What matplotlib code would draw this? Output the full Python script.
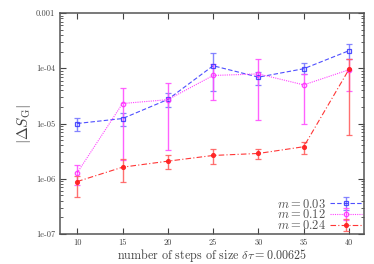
import matplotlib
matplotlib.use("Agg")
import matplotlib.pyplot as plt
import numpy as np
from matplotlib.ticker import FixedLocator, FixedFormatter, LogLocator, NullFormatter

plt.rcParams['font.family'] = ['cmr10', 'DejaVu Serif']
plt.rcParams['mathtext.fontset'] = 'cm'
plt.rcParams['axes.formatter.use_mathtext'] = True

steps = [10, 15, 20, 25, 30, 35, 40]

m003 = [1.00e-5, 1.23e-5, 2.72e-5, 1.11e-4, 6.9e-5, 9.8e-5, 2.08e-4]
m003_hi = [1.28e-5, 1.58e-5, 3.5e-5, 1.87e-4, 8.7e-5, 1.23e-4, 2.75e-4]
m003_lo = [7.3e-6, 9.0e-6, 1.95e-5, 3.9e-5, 4.9e-5, 7.9e-5, 1.46e-4]

m012 = [1.28e-6, 2.3e-5, 2.7e-5, 7.4e-5, 7.9e-5, 5.0e-5, 9.4e-5]
m012_hi = [1.76e-6, 4.4e-5, 5.3e-5, 1.2e-4, 1.46e-4, 7.9e-5, 1.47e-4]
m012_lo = [7.8e-7, 2.2e-6, 3.3e-6, 2.67e-5, 1.17e-5, 1.0e-5, 3.8e-5]

m024 = [8.9e-7, 1.62e-6, 2.08e-6, 2.64e-6, 2.87e-6, 3.8e-6, 9.6e-5]
m024_hi = [1.13e-6, 2.3e-6, 2.7e-6, 3.39e-6, 3.49e-6, 4.7e-6, 1.5e-4]
m024_lo = [4.7e-7, 8.9e-7, 1.49e-6, 1.84e-6, 2.3e-6, 2.83e-6, 6.3e-6]

labels = [r'$m=0.03$', r'$m=0.12$', r'$m=0.24$']
ytick_vals = [1e-7, 1e-6, 1e-5, 1e-4, 1e-3]
ytick_labels = ['1e-07', '1e-06', '1e-05', '1e-04', '0.001']

fig = plt.figure(figsize=(3.74, 2.64), dpi=100)
ax = fig.add_axes([60/374, 30/264, 304/374, 221/264])

def err(v, lo, hi):
    v = np.array(v); return [v - np.array(lo), np.array(hi) - v]

series = [
    (m003, m003_lo, m003_hi, '#3c3cff', '#7878ff', 's', 3.4, (0, (4, 2)), 'none'),
    (m012, m012_lo, m012_hi, '#ff30ff', '#ff50ff', 'o', 3.2, (0, (1, 1)), 'none'),
    (m024, m024_lo, m024_hi, '#ff2020', '#ff6060', 'o', 2.8, (0, (5, 2, 1, 2)), '#ff2020'),
]
handles = []
for (v, lo, hi, c, ec, mk, ms, ls, mfc), lab in zip(series, labels):
    h = ax.errorbar(steps, v, yerr=err(v, lo, hi), color=c, ecolor=ec,
                    elinewidth=1.0, capsize=2.3, capthick=1.0,
                    marker=mk, markersize=ms,
                    markerfacecolor=mfc, markeredgecolor=c, markeredgewidth=0.9,
                    linestyle=ls, linewidth=0.8, label=lab, alpha=0.9)
    handles.append(h)

ax.set_yscale('log')
ax.set_ylim(1e-7, 1e-3)
ax.set_xlim(8.1, 41.65)
ax.yaxis.set_major_locator(FixedLocator(ytick_vals))
ax.yaxis.set_major_formatter(FixedFormatter(ytick_labels))
ax.yaxis.set_minor_locator(LogLocator(base=10, subs=np.arange(2, 10)))
ax.yaxis.set_minor_formatter(NullFormatter())
ax.set_xticks(steps)
ax.set_xticklabels([str(s) for s in steps])

ax.tick_params(which='both', direction='in', top=True, right=True,
               colors='#444444', labelcolor='#444444', labelsize=6)
ax.tick_params(which='major', length=4.5, width=0.8)
ax.tick_params(which='minor', length=2.5, width=0.6)
ax.tick_params(axis='x', which='minor', bottom=False, top=False)
for s in ax.spines.values():
    s.set_color('#555555'); s.set_linewidth(1.1)

ax.set_xlabel(r'number of steps of size $\delta\tau = 0.00625$', fontsize=8.7, color='#444444', labelpad=0)
ax.set_ylabel(r'$|\Delta S_{\rm G}|$', fontsize=11, color='#444444', labelpad=2)

leg = ax.legend(handles=handles, loc='lower right', markerfirst=False, frameon=False,
                fontsize=9, labelspacing=-0.18, handlelength=2.6, handletextpad=0.3,
                borderaxespad=0.05, borderpad=0.1)
for t in leg.get_texts():
    t.set_color('#555555')

fig.savefig('out.png', dpi=100)
